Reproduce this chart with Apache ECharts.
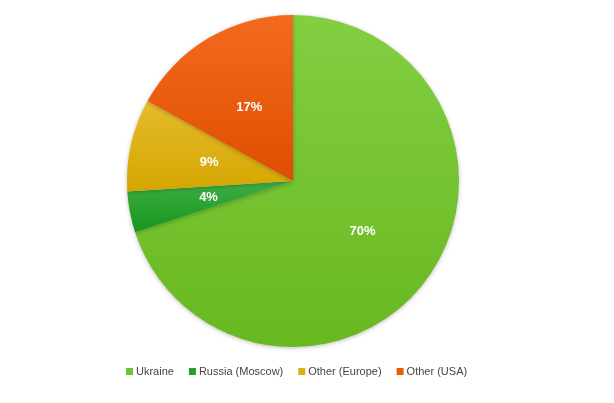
<!DOCTYPE html>
<html><head><meta charset="utf-8">
<script src="https://cdn.jsdelivr.net/npm/echarts@6/dist/echarts.min.js"></script>
<style>html,body{margin:0;padding:0;background:#fff}#c{width:614px;height:403px}</style>
</head><body><div id="c"></div>
<script>
const categories = ["Ukraine", "Russia (Moscow)", "Other (Europe)", "Other (USA)"];
const values = [70, 4, 9, 17];
const topColors = ["#82cf42", "#3fae45", "#e6bb2e", "#f36a1e"];
const bottomColors = ["#68b820", "#13961c", "#d4a600", "#e04e00"];
const legendColors = ["#74c232", "#21a02c", "#ddb018", "#ea5c0c"];

const chart = echarts.init(document.getElementById('c'));
chart.setOption({
  animation: false,
  legend: {
    top: 361,
    left: 121,
    itemWidth: 7,
    itemHeight: 7,
    itemGap: 15,
    icon: 'rect',
    textStyle: {fontFamily: 'Liberation Sans', fontSize: 11, color: '#444', padding: [0, 0, 0, -2]},
    data: categories.map((c, i) => ({name: c, itemStyle: {color: legendColors[i]}}))
  },
  series: [{
    type: 'pie',
    center: [293, 181],
    radius: 166,
    startAngle: 90,
    clockwise: true,
    label: {
      show: true,
      position: 'inside',
      formatter: '{d}%',
      color: '#fff',
      fontFamily: 'Liberation Sans',
      fontWeight: 'bold',
      fontSize: 13
    },
    labelLine: {show: false},
    emphasis: {disabled: true},
    data: categories.map((c, i) => ({
      name: c,
      value: values[i],
      itemStyle: {
        color: {type: 'linear', x: 0, y: 0, x2: 0, y2: 1,
          colorStops: [{offset: 0, color: topColors[i]}, {offset: 1, color: bottomColors[i]}]},
        shadowBlur: 4,
        shadowColor: 'rgba(0,0,0,0.25)',
        shadowOffsetY: 1
      }
    }))
  }]
});
</script></body></html>
